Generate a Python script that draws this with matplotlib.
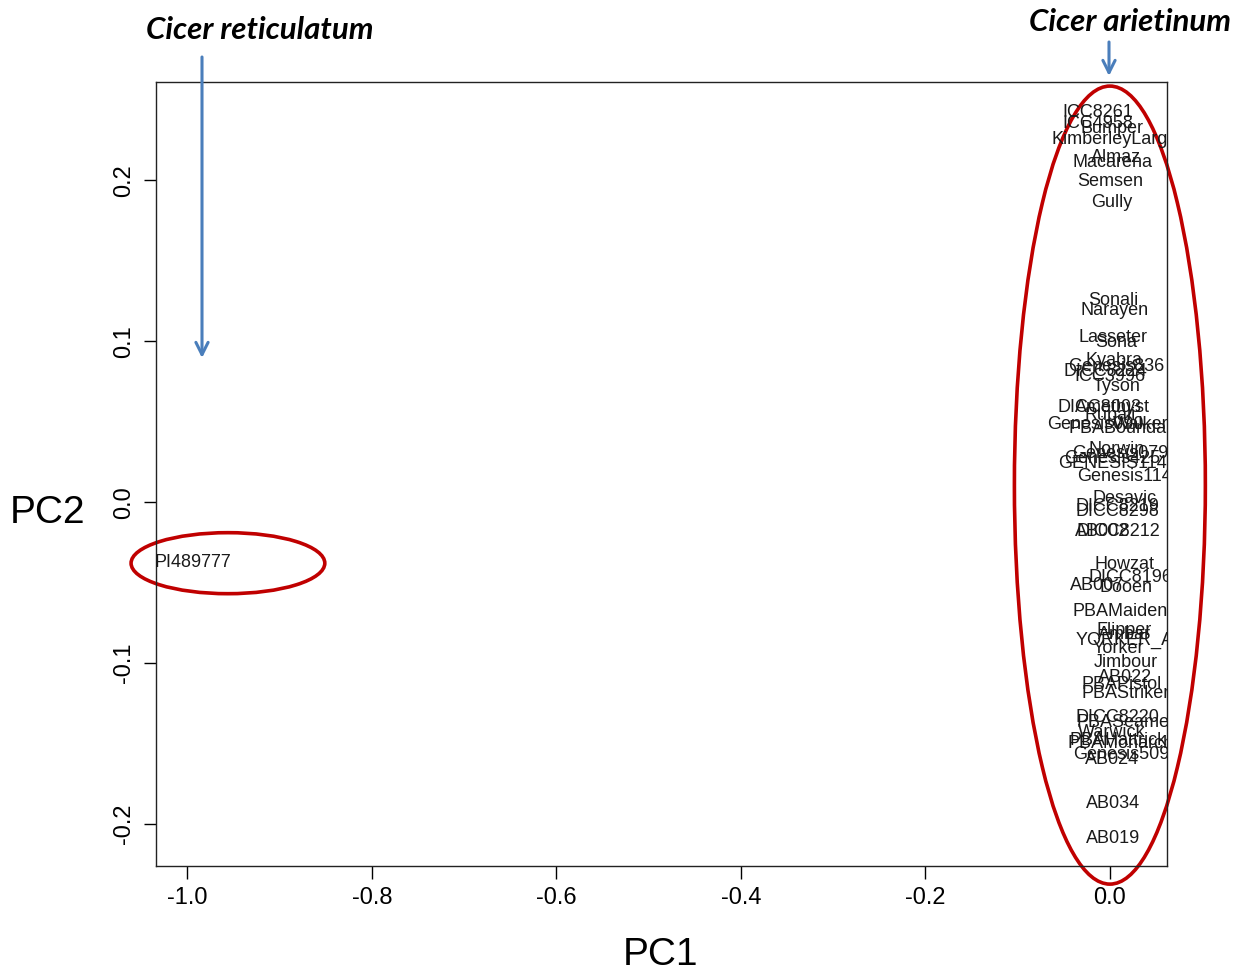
import matplotlib
matplotlib.use("Agg")
import matplotlib.pyplot as plt
from matplotlib.patches import Ellipse

# accession labels and PCA scores
names = ["ICC8261", "ICC4958", "Bumper", "KimberleyLarge", "Almaz", "Macarena",
         "Semsen", "Gully", "Sonali", "Narayen", "Lasseter", "Sona", "Kyabra",
         "Genesis836", "DICC8224", "ICC3996", "Tyson", "DICC8003", "Amethyst",
         "Rupali", "Genesis090", "Walker", "PBABoundary", "Norwin", "Genesis079",
         "Genesis425", "GENESIS114", "Genesis114", "Desavic", "DICC8219",
         "DICC8298", "AB002", "DICC8212", "Howzat", "DICC8196", "AB007", "Dooen",
         "PBAMaiden", "Flipper", "Ambar", "YORKER_AB", "Yorker", "Jimbour",
         "AB022", "PBAPistol", "PBAStriker", "DICC8220", "PBASeamer", "Warwick",
         "PBAHattrick", "PBAMonarch", "Genesis509", "AB024", "AB034", "AB019",
         "PI489777"]
pc1 = [-0.013, -0.013, 0.002, 0.005, 0.007, 0.003,
       0.000, 0.002, 0.004, 0.005, 0.003, 0.007, 0.004,
       0.007, -0.005, 0.000, 0.007, -0.011, 0.003,
       0.000, -0.016, 0.033, 0.016, 0.007, 0.011,
       0.002, 0.003, 0.016, 0.016, 0.008,
       0.008, -0.008, 0.009, 0.016, 0.022, -0.014, 0.018,
       0.011, 0.015, 0.016, 0.023, 0.009, 0.017,
       0.016, 0.013, 0.017, 0.008, 0.018, 0.002,
       0.009, 0.012, 0.012, 0.002, 0.003, 0.004,
       -0.994]
pc2 = [0.242, 0.235, 0.232, 0.225, 0.214, 0.211,
       0.199, 0.186, 0.125, 0.119, 0.102, 0.099, 0.088,
       0.084, 0.081, 0.078, 0.072, 0.059, 0.059,
       0.054, 0.048, 0.048, 0.046, 0.033, 0.030,
       0.027, 0.024, 0.016, 0.0025, -0.0025,
       -0.0056, -0.018, -0.018, -0.0385, -0.047, -0.052, -0.053,
       -0.068, -0.080, -0.082, -0.086, -0.0907, -0.0994,
       -0.109, -0.113, -0.1186, -0.134, -0.137, -0.143,
       -0.148, -0.150, -0.1565, -0.160, -0.187, -0.209,
       -0.0373]

xticks = [-1.0, -0.8, -0.6, -0.4, -0.2, 0.0]
yticks = [-0.2, -0.1, 0.0, 0.1, 0.2]

fig = plt.figure(figsize=(12.35, 9.76), dpi=100)
ax = fig.add_axes([0.1263, 0.1127, 0.8187, 0.8033])

for n, x, y in zip(names, pc1, pc2):
    ax.text(x, y, n, ha="center", va="center", fontsize=13,
            family="Liberation Sans", color="#1a1a1a", clip_on=True)

ax.set_xlim(-1.034, 0.062)
ax.set_ylim(-0.226, 0.261)
ax.set_xticks(xticks)
ax.set_xticklabels(["%.1f" % t for t in xticks])
ax.set_yticks(yticks)
ax.set_yticklabels(["%.1f" % t for t in yticks], rotation=90, va="center")
ax.tick_params(labelsize=17, length=9, width=1, pad=6)
for lab in ax.get_xticklabels() + ax.get_yticklabels():
    lab.set_family("Liberation Sans")
for s in ax.spines.values():
    s.set_linewidth(1)
    s.set_color("#222222")

fig.text(48 / 1235, 1 - 513 / 976, "PC2", ha="center", va="center",
         fontsize=28, family="Liberation Sans")
fig.text(660 / 1235, 1 - 955 / 976, "PC1", ha="center", va="center",
         fontsize=28, family="Liberation Sans")

# group ellipses
red = "#C00000"
ax.add_patch(Ellipse((-0.956, -0.0379), 0.210, 0.0379, fill=False,
                     ec=red, lw=2.6, clip_on=False))
ax.add_patch(Ellipse((0.0, 0.0106), 0.207, 0.4957, fill=False,
                     ec=red, lw=2.6, clip_on=False))

# species labels with arrows
blue = "#4A7EBB"
fig.text(260 / 1235, 1 - 30 / 976, "Cicer reticulatum", ha="center", va="center",
         fontsize=22.5, family="Lato", weight="bold", style="italic")
fig.text(1130 / 1235, 1 - 22 / 976, "Cicer arietinum", ha="center", va="center",
         fontsize=22.5, family="Lato", weight="bold", style="italic")
ax.annotate("", xy=(202 / 1235, 1 - 358 / 976), xytext=(202 / 1235, 1 - 57 / 976),
            xycoords="figure fraction", textcoords="figure fraction",
            arrowprops=dict(arrowstyle="->", color=blue, lw=2.2,
                            mutation_scale=22, shrinkA=0, shrinkB=0))
ax.annotate("", xy=(1109 / 1235, 1 - 76 / 976), xytext=(1109 / 1235, 1 - 42 / 976),
            xycoords="figure fraction", textcoords="figure fraction",
            arrowprops=dict(arrowstyle="->", color=blue, lw=2.2,
                            mutation_scale=22, shrinkA=0, shrinkB=0))

fig.savefig("out.png", dpi=100)
